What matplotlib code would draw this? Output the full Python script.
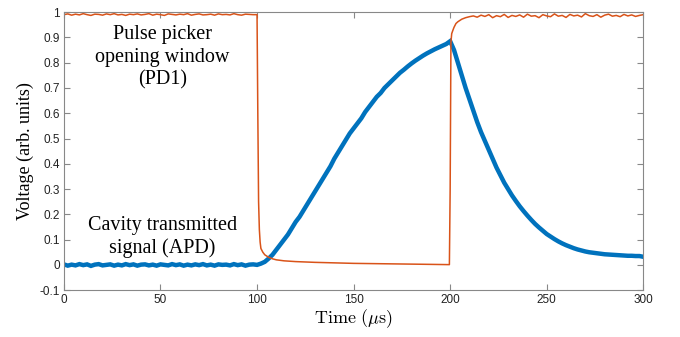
import matplotlib
matplotlib.use("Agg")
import matplotlib.pyplot as plt
import numpy as np

# ---------------- data ----------------
# APD (cavity transmitted signal), sampled every 2 us from 0 to 300
apd_time = list(range(0, 302, 2))
apd_volt = [
    0.002, -0.003, 0.001, -0.002, 0.003, -0.001, 0.002, -0.004, 0.001, 0.003,
    -0.002, 0.000, 0.002, -0.003, 0.001, -0.002, 0.003, -0.001, 0.002, -0.003,
    0.001, 0.002, -0.002, 0.001, -0.003, 0.002, 0.000, -0.002, 0.003, -0.001,
    0.002, -0.003, 0.001, -0.002, 0.002, -0.001, 0.003, -0.002, 0.001, -0.003,
    0.002, 0.000, 0.001, -0.002, 0.003, -0.001, 0.002, -0.003, 0.001, 0.002,
    0.000,                                     # t = 100
    0.005, 0.012, 0.025, 0.040, 0.060, 0.080, 0.100, 0.120, 0.145, 0.170,   # 102-120
    0.190, 0.215, 0.240, 0.265, 0.290, 0.315, 0.340, 0.365, 0.390, 0.420,   # 122-140
    0.445, 0.470, 0.495, 0.520, 0.540, 0.560, 0.580, 0.605, 0.625, 0.645,   # 142-160
    0.665, 0.680, 0.700, 0.715, 0.730, 0.745, 0.760, 0.772, 0.785, 0.797,   # 162-180
    0.808, 0.818, 0.828, 0.837, 0.845, 0.853, 0.860, 0.867, 0.874, 0.885,   # 182-200
    0.850, 0.800, 0.750, 0.700, 0.655, 0.610, 0.565, 0.525, 0.490, 0.455,   # 202-220
    0.420, 0.385, 0.355, 0.325, 0.300, 0.275, 0.253, 0.232, 0.213, 0.195,   # 222-240
    0.178, 0.162, 0.148, 0.135, 0.122, 0.112, 0.102, 0.093, 0.085, 0.078,   # 242-260
    0.072, 0.066, 0.061, 0.057, 0.053, 0.050, 0.048, 0.046, 0.044, 0.042,   # 262-280
    0.041, 0.040, 0.039, 0.038, 0.037, 0.036, 0.036, 0.035, 0.035, 0.032,   # 282-300
]

# PD1 (pulse picker opening window)
pd1_time = (list(range(0, 100, 2)) +
            [100.0, 100.4, 100.8, 101.2, 101.6, 102, 103, 104, 106, 108, 110, 114,
             120, 130, 140, 150, 160, 170, 180, 190, 199.6,
             200.0, 200.4, 200.8, 201.5, 202, 203, 204, 206, 208, 210] +
            list(range(212, 302, 2)))
pd1_volt = (
    [0.990, 0.993, 0.988, 0.992, 0.989, 0.994, 0.990, 0.987, 0.992, 0.991,
     0.988, 0.993, 0.990, 0.994, 0.989, 0.991, 0.987, 0.992, 0.990, 0.993,
     0.989, 0.991, 0.994, 0.988, 0.992, 0.990, 0.987, 0.993, 0.991, 0.989,
     0.992, 0.990, 0.994, 0.988, 0.991, 0.993, 0.989, 0.990, 0.992, 0.988,
     0.993, 0.990, 0.991, 0.989, 0.994, 0.990, 0.988, 0.992, 0.991, 0.990] +
    [0.990, 0.600, 0.250, 0.140, 0.090, 0.065, 0.050, 0.040, 0.030, 0.024, 0.020, 0.016,
     0.013, 0.010, 0.008, 0.006, 0.005, 0.004, 0.003, 0.002, 0.001,
     0.300, 0.880, 0.915, 0.930, 0.940, 0.955, 0.962, 0.972, 0.978, 0.982] +
    [0.985, 0.980, 0.988, 0.983, 0.990, 0.978, 0.986, 0.982, 0.991, 0.979,
     0.987, 0.983, 0.989, 0.980, 0.992, 0.984, 0.986, 0.978, 0.990, 0.985,
     0.982, 0.993, 0.984, 0.987, 0.979, 0.991, 0.985, 0.988, 0.981, 0.994,
     0.986, 0.983, 0.990, 0.980, 0.988, 0.992, 0.984, 0.987, 0.982, 0.991,
     0.985, 0.989, 0.983, 0.987, 0.990]
)

x_ticks = [0, 50, 100, 150, 200, 250, 300]
y_ticks = [-0.1, 0, 0.1, 0.2, 0.3, 0.4, 0.5, 0.6, 0.7, 0.8, 0.9, 1]
y_tick_labels = ["-0.1", "0", "0.1", "0.2", "0.3", "0.4", "0.5", "0.6", "0.7", "0.8", "0.9", "1"]

# ---------------- plot ----------------
plt.rcParams['mathtext.fontset'] = 'cm'
fig = plt.figure(figsize=(6.8, 3.37), dpi=100)
ax = fig.add_axes([0.094, 0.139, 0.852, 0.825])

ax.plot(apd_time, apd_volt, color='#0072BD', linewidth=3.2, solid_joinstyle='miter')
ax.plot(pd1_time, pd1_volt, color='#D95319', linewidth=1.1)

ax.set_xlim(0, 300)
ax.set_ylim(-0.1, 1)
ax.set_xticks(x_ticks)
ax.set_yticks(y_ticks)
ax.set_yticklabels(y_tick_labels)

edge = '#888888'
for s in ax.spines.values():
    s.set_color(edge)
    s.set_linewidth(0.8)
ax.tick_params(direction='in', length=4, width=0.8, color=edge,
               top=True, right=True, labelsize=8.5, labelcolor='#222222', pad=3)
for lab in ax.get_xticklabels() + ax.get_yticklabels():
    lab.set_family('Liberation Sans')

ax.set_xlabel(r'$\mathrm{Time}\ (\mu\mathrm{s})$', fontsize=13, labelpad=1)
ax.set_ylabel('Voltage (arb. units)', fontsize=13, family='Liberation Serif', labelpad=4)

ax.text(51, 0.82, 'Pulse picker\nopening window\n(PD1)', ha='center', va='center',
        fontsize=14.5, family='Liberation Serif', linespacing=1.25)
ax.text(51, 0.11, 'Cavity transmitted\nsignal (APD)', ha='center', va='center',
        fontsize=14.5, family='Liberation Serif', linespacing=1.25)

fig.savefig('out.png', dpi=100)
